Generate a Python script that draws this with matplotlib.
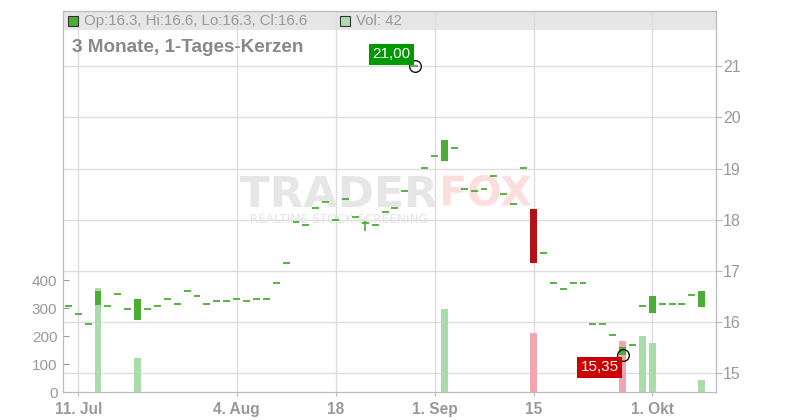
import numpy as np
import matplotlib
matplotlib.use('Agg')
import matplotlib.pyplot as plt
from matplotlib.patches import Rectangle, PathPatch
from matplotlib.textpath import TextPath
from matplotlib.font_manager import FontProperties
from matplotlib.transforms import Affine2D, blended_transform_factory

plt.rcParams['font.family'] = ['Liberation Sans', 'DejaVu Sans']

# daily candles, 10. Jul .. 8. Okt (trading days only)
opens = [16.31, 16.16, 15.96, 16.33, 16.31, 16.55, 16.26, 16.04, 16.26, 16.31,
         16.45, 16.35, 16.60, 16.51, 16.35, 16.41, 16.41, 16.45, 16.41, 16.45,
         16.45, 16.76, 17.15, 17.95, 17.89, 18.24, 18.34, 17.99, 18.40, 18.05,
         17.93, 17.89, 18.15, 18.24, 18.56, 21.00, 19.01, 19.24, 19.14, 19.40,
         18.60, 18.56, 18.60, 18.85, 18.50, 18.30, 19.01, 18.21, 17.35, 16.76,
         16.64, 16.76, 16.76, 15.96, 15.96, 15.74, 15.35, 15.55, 16.31, 16.18,
         16.35, 16.35, 16.35, 16.54, 16.30]
closes = [16.31, 16.16, 15.96, 16.60, 16.31, 16.55, 16.26, 16.45, 16.26, 16.31,
          16.45, 16.35, 16.60, 16.51, 16.35, 16.41, 16.41, 16.45, 16.41, 16.45,
          16.45, 16.76, 17.15, 17.95, 17.89, 18.24, 18.34, 17.99, 18.40, 18.05,
          17.93, 17.89, 18.15, 18.24, 18.56, 21.00, 19.01, 19.24, 19.56, 19.40,
          18.60, 18.56, 18.60, 18.85, 18.50, 18.30, 19.01, 17.15, 17.35, 16.76,
          16.64, 16.76, 16.76, 15.96, 15.96, 15.74, 15.52, 15.55, 16.31, 16.51,
          16.35, 16.35, 16.35, 16.54, 16.61]
wick_day = 30
wick_high = 17.97
wick_low = 17.79

vol_days = [3, 7, 38, 47, 56, 58, 59, 64]
vol_values = [372, 122, 297, 211, 183, 200, 175, 42]

date_pos = [1, 17, 27, 37, 47, 59]
date_labels = ['11. Jul', '4. Aug', '18', '1. Sep', '15', '1. Okt']
price_ticks = [15, 16, 17, 18, 19, 20, 21]
vol_ticks = [0, 100, 200, 300, 400]

GREEN = '#4aad34'
RED = '#b31217'
VGREEN = '#aadcaa'
VRED = '#f0a6b0'
GRID = '#dddddd'
AXC = '#bbbbbb'
TXT = '#999999'

x = np.arange(len(opens))
highs = [max(o, c) for o, c in zip(opens, closes)]
lows = [min(o, c) for o, c in zip(opens, closes)]
highs[wick_day] = wick_high
lows[wick_day] = wick_low

fig = plt.figure(figsize=(8, 4.2), dpi=100)
W, H = 800, 420
ax_v = fig.add_axes([63 / W, 28 / H, 653 / W, 381 / H])
ax_p = ax_v.twinx()

# header band
ax_v.add_patch(Rectangle((0, (392 - 30) / 381), 1, 19 / 381, transform=ax_v.transAxes,
                         fc='#e6e6e6', ec='none', zorder=0.2))

# grid
ax_v.set_axisbelow(True)
ax_v.set_xticks(date_pos, date_labels)
ax_v.grid(axis='x', color=GRID, lw=1)
btr = blended_transform_factory(ax_v.transAxes, ax_p.transData)
for p in price_ticks:
    ax_v.plot([0, 1], [p, p], transform=btr, color=GRID, lw=1, zorder=0.5)


# watermark
def logo_text(s, x0, x1, ytop, ybot, color, weight='bold'):
    path = TextPath((0, 0), s, size=1, prop=FontProperties(family='DejaVu Sans', weight=weight))
    ext = path.get_extents()
    tr = (Affine2D().translate(-ext.x0, -ext.y0)
          .scale((x1 - x0) / ext.width, (ybot - ytop) / ext.height)
          .translate(x0, H - ybot).scale(1 / W, 1 / H) + fig.transFigure)
    ax_v.add_patch(PathPatch(path, transform=tr, fc=color, ec='none', zorder=0.6))


logo_text('TRADER', 240, 437, 176, 207, '#e6e6e6')
logo_text('FOX', 443, 531, 175, 206, '#fddede')
logo_text('REALTIME STOCK SCREENING', 251, 427, 214, 223, '#e4e4e4', 'normal')

# volume
for d, v in zip(vol_days, vol_values):
    up = closes[d] >= closes[d - 1]
    ax_v.bar(d, v, width=0.7, color=VGREEN if up else VRED, zorder=2)

# candles
for i in x:
    o, c = opens[i], closes[i]
    col = GREEN if c >= o else RED
    if highs[i] > max(o, c) or lows[i] < min(o, c):
        ax_p.vlines(i, lows[i], highs[i], color=col, lw=1.2, zorder=3)
    if abs(c - o) < 0.02:
        ax_p.hlines(o, i - 0.35, i + 0.35, color=col, lw=1.3, zorder=4)
    else:
        ax_p.bar(i, abs(c - o), bottom=min(o, c), width=0.7, color=col, zorder=4)

# max / min markers
i_hi = int(np.argmax(highs))
i_lo = int(np.argmin(lows))
for i, y, dy, va, fc in [(i_hi, highs[i_hi], 5, 'bottom', '#009900'),
                         (i_lo, lows[i_lo], -5, 'top', '#cc0000')]:
    ax_p.plot(i, y, 'o', mfc='none', mec='#111111', ms=8.4, mew=1, zorder=6)
    ax_p.annotate(f'{y:.2f}'.replace('.', ','), (i, y), xytext=(-4, dy),
                  textcoords='offset pixels', ha='right', va=va, color='white',
                  fontsize=11, zorder=7,
                  bbox=dict(boxstyle='square,pad=0.22', fc=fc, ec='none'))

# axes styling
for a in (ax_v, ax_p):
    for s in a.spines.values():
        s.set_color(AXC)
ax_v.set_yticks(vol_ticks)
ax_v.tick_params(axis='y', direction='in', length=4, color='#999999', labelcolor=TXT,
                 labelsize=11, pad=4)
ax_v.tick_params(axis='x', direction='out', length=3, color=AXC, labelcolor=TXT,
                 labelsize=11.2, pad=4)
for t in ax_v.get_xticklabels():
    t.set_fontweight('bold')
ax_p.set_yticks(price_ticks)
ax_p.tick_params(axis='y', direction='out', length=4, color=AXC, labelcolor=TXT,
                 labelsize=11.5, pad=1)
ax_v.set_xlim(-0.54, 65.44)
ax_v.set_ylim(0, 1366)
ax_p.set_ylim(14.635, 22.08)

# header texts
fig.add_artist(Rectangle((68 / W, 1 - 26 / H), 10 / W, 10 / H, transform=fig.transFigure,
                         fc=GREEN, ec='#333333', lw=0.8))
fig.add_artist(Rectangle((340 / W, 1 - 26 / H), 10 / W, 10 / H, transform=fig.transFigure,
                         fc=VGREEN, ec='#333333', lw=0.8))
fig.text(84 / W, 1 - 21 / H,
         f'Op:{opens[-1]:.1f}, Hi:{highs[-1]:.1f}, Lo:{lows[-1]:.1f}, Cl:{closes[-1]:.1f}',
         va='center', color=TXT, fontsize=10.8)
fig.text(356 / W, 1 - 21 / H, f'Vol: {vol_values[-1]}', va='center', color=TXT, fontsize=10.8)
fig.text(72 / W, 1 - 47 / H, '3 Monate, 1-Tages-Kerzen', va='center', color='#888888',
         fontsize=13.6, fontweight='bold')

fig.savefig('out.png', dpi=100, facecolor='white')
